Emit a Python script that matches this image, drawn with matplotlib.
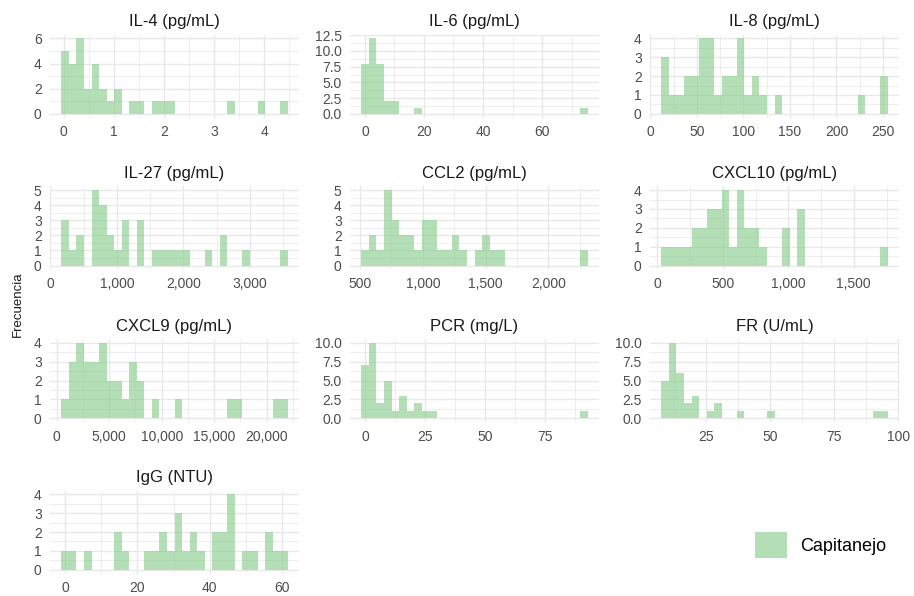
import numpy as np
import matplotlib
matplotlib.use("Agg")
import matplotlib.pyplot as plt
from matplotlib.patches import Patch
from matplotlib.ticker import FuncFormatter, MultipleLocator

plt.rcParams["font.family"] = ["Liberation Sans", "DejaVu Sans"]

# ---- data: 30-bin histogram counts per variable ----
titles = ["IL-4 (pg/mL)", "IL-6 (pg/mL)", "IL-8 (pg/mL)",
          "IL-27 (pg/mL)", "CCL2 (pg/mL)", "CXCL10 (pg/mL)",
          "CXCL9 (pg/mL)", "PCR (mg/L)", "FR (U/mL)", "IgG (NTU)"]

# observed min / max of each variable (bin centres run from min to max)
data_min = [0.029, 0.04, 15.85, 221.75, 540.6, 59.3, 802, 0.05, 9.1, 0.03]
data_max = [4.39, 74.2, 250.95, 3513, 2282, 1730, 21634, 91.2, 94.4, 60.5]

il4_counts = [5, 4, 6, 2, 4, 2, 1, 2, 0, 1, 1, 0, 1, 1, 1,
              0, 0, 0, 0, 0, 0, 0, 1, 0, 0, 0, 1, 0, 0, 1]
il6_counts = [8, 12, 8, 2, 2, 0, 0, 1, 0, 0, 0, 0, 0, 0, 0,
              0, 0, 0, 0, 0, 0, 0, 0, 0, 0, 0, 0, 0, 0, 1]
il8_counts = [3, 1, 1, 2, 2, 4, 4, 1, 2, 2, 4, 1, 2, 1, 0,
              1, 0, 0, 0, 0, 0, 0, 0, 0, 0, 0, 1, 0, 0, 2]
il27_counts = [3, 1, 2, 0, 5, 4, 2, 1, 3, 0, 3, 0, 1, 1, 1,
               1, 1, 0, 0, 1, 0, 2, 0, 0, 1, 0, 0, 0, 0, 1]
ccl2_counts = [1, 2, 1, 5, 3, 2, 2, 1, 3, 3, 1, 1, 2, 1, 0,
               1, 2, 1, 1, 0, 0, 0, 0, 0, 0, 0, 0, 0, 0, 1]
cxcl10_counts = [1, 1, 1, 1, 2, 2, 3, 3, 4, 1, 4, 2, 2, 1, 0,
                 0, 2, 0, 3, 0, 0, 0, 0, 0, 0, 0, 0, 0, 0, 1]
cxcl9_counts = [1, 3, 4, 3, 3, 4, 2, 2, 1, 3, 2, 0, 1, 0, 0,
                1, 0, 0, 0, 0, 0, 0, 1, 1, 0, 0, 0, 0, 1, 1]
pcr_counts = [7, 10, 2, 5, 1, 3, 1, 2, 1, 1, 0, 0, 0, 0, 0,
              0, 0, 0, 0, 0, 0, 0, 0, 0, 0, 0, 0, 0, 0, 1]
fr_counts = [5, 10, 6, 2, 3, 0, 1, 2, 0, 0, 1, 0, 0, 0, 1,
             0, 0, 0, 0, 0, 0, 0, 0, 0, 0, 0, 0, 0, 1, 1]
igg_counts = [1, 1, 0, 1, 0, 0, 0, 2, 1, 0, 0, 1, 1, 2, 1,
              3, 1, 2, 1, 0, 2, 2, 4, 0, 1, 1, 0, 2, 1, 1]

all_counts = [il4_counts, il6_counts, il8_counts, il27_counts, ccl2_counts,
              cxcl10_counts, cxcl9_counts, pcr_counts, fr_counts, igg_counts]

group_label = "Capitanejo"

# axis break spacing per panel
x_step = [1, 20, 50, 1000, 500, 500, 5000, 25, 25, 20]
y_step = [2, 2.5, 1, 1, 1, 1, 1, 2.5, 2.5, 1]

FILL = "#8ccf8f"
ALPHA = 0.65
GRID = "#E8E8E8"

fig = plt.figure(figsize=(9.14, 5.96), dpi=100)
W, H = 914, 596
col_left = [50, 350, 650]
row_top = [34.6, 186.3, 339, 490.5]
pw, ph = 249, 83

for i, (title, counts) in enumerate(zip(titles, all_counts)):
    r, c = divmod(i, 3)
    ax = fig.add_axes([col_left[c] / W, 1 - (row_top[r] + ph) / H, pw / W, ph / H])

    lo, hi = data_min[i], data_max[i]
    w = (hi - lo) / 29
    edges = np.linspace(lo - w / 2, hi + w / 2, 31)
    ax.bar(edges[:-1], counts, width=w, align="edge", color=FILL,
           alpha=ALPHA, linewidth=0)

    span = edges[-1] - edges[0]
    ax.set_xlim(edges[0] - 0.05 * span, edges[-1] + 0.05 * span)
    top = max(counts)
    ax.set_ylim(-0.05 * top, 1.05 * top)

    ax.xaxis.set_major_locator(MultipleLocator(x_step[i]))
    ax.xaxis.set_minor_locator(MultipleLocator(x_step[i] / 2))
    ax.yaxis.set_major_locator(MultipleLocator(y_step[i]))
    ax.yaxis.set_minor_locator(MultipleLocator(y_step[i] / 2))
    ax.xaxis.set_major_formatter(FuncFormatter(lambda v, p: f"{v:,.0f}"))
    if y_step[i] == 2.5:
        ax.yaxis.set_major_formatter(FuncFormatter(lambda v, p: f"{v:.1f}"))
    else:
        ax.yaxis.set_major_formatter(FuncFormatter(lambda v, p: f"{v:.0f}"))

    ax.grid(which="major", color=GRID, lw=1.0)
    ax.grid(which="minor", color=GRID, lw=0.5)
    ax.set_axisbelow(True)
    for s in ax.spines.values():
        s.set_visible(False)
    ax.tick_params(which="both", length=0, labelsize=10, labelcolor="#4D4D4D")
    ax.tick_params(axis="y", pad=6)
    ax.tick_params(axis="x", pad=5.5)
    ax.set_title(title, fontsize=12, color="#1A1A1A", pad=6)

fig.text(18 / W, 1 - 304 / H, "Frecuencia", rotation=90, fontsize=9.5,
         color="#1A1A1A", ha="center", va="center")

fig.legend(handles=[Patch(facecolor=FILL, alpha=ALPHA, linewidth=0)],
           labels=[group_label], loc="center left",
           bbox_to_anchor=(755 / W, 1 - 545 / H), frameon=False,
           fontsize=13, handlelength=1.78, handleheight=1.85,
           handletextpad=0.7, borderpad=0, borderaxespad=0)

fig.savefig("out.png", dpi=100)
